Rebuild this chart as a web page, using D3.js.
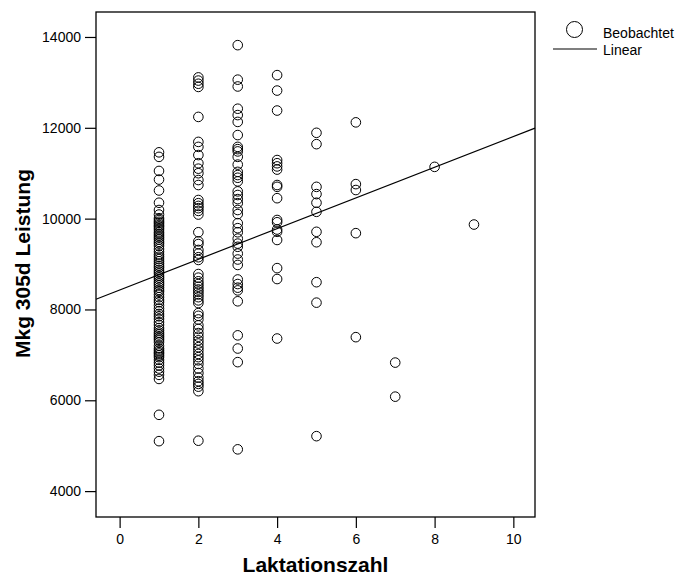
<!DOCTYPE html>
<html>
<head>
<meta charset="utf-8">
<script src="https://cdn.jsdelivr.net/npm/d3@7"></script>
<style>
  html, body { margin: 0; padding: 0; background: #fff; }
  svg { display: block; font-family: Arial, "Liberation Sans", sans-serif; }
</style>
</head>
<body>
<svg id="chart" width="684" height="578"></svg>
<script>
// ---- data ----
const lakt1 = [11460, 11360, 11050, 10860, 10620, 10350, 10190, 10090, 10010, 9970, 9930, 9900, 9860, 9830, 9790, 9750, 9700, 9660, 9620, 9580, 9540, 9490, 9450, 9400, 9330, 9270, 9210, 9160, 9110, 9060, 9010, 8960, 8920, 8870, 8830, 8790, 8740, 8700, 8660, 8610, 8570, 8530, 8480, 8430, 8390, 8330, 8270, 8210, 8160, 8090, 8020, 7960, 7900, 7850, 7790, 7720, 7660, 7590, 7540, 7490, 7450, 7410, 7370, 7330, 7280, 7200, 7140, 7100, 7060, 7030, 6990, 6950, 6890, 6830, 6770, 6700, 6630, 6560, 6470, 5680, 5100];
const lakt2 = [13110, 13040, 12970, 12900, 12240, 11690, 11580, 11400, 11220, 11100, 11000, 10850, 10740, 10410, 10340, 10280, 10230, 10170, 10090, 9700, 9500, 9440, 9310, 9230, 9150, 9090, 8780, 8700, 8620, 8560, 8500, 8440, 8390, 8330, 8270, 8200, 8140, 7920, 7860, 7780, 7650, 7570, 7480, 7400, 7320, 7250, 7170, 7100, 7020, 6950, 6880, 6800, 6700, 6600, 6500, 6420, 6360, 6300, 6200, 5110];
const lakt3 = [13820, 13060, 12910, 12420, 12280, 12130, 11840, 11580, 11530, 11480, 11360, 11190, 11030, 10960, 10900, 10820, 10600, 10520, 10430, 10340, 10190, 10100, 9900, 9790, 9700, 9560, 9450, 9380, 9230, 9100, 8980, 8660, 8560, 8480, 8420, 8180, 7430, 7140, 6840, 4920];
const lakt4 = [13160, 12820, 12380, 11290, 11220, 11150, 11080, 10740, 10700, 10450, 9970, 9920, 9760, 9710, 9530, 8910, 8670, 7360];
const lakt5 = [11890, 11640, 10700, 10540, 10350, 10150, 9710, 9480, 8600, 8150, 5210];
const lakt6 = [12120, 10760, 10630, 9680, 7390];
const lakt7 = [6830, 6080];
const lakt8 = [11140];
const lakt9 = [9870];
const laktationen = [1, 2, 3, 4, 5, 6, 7, 8, 9];
const xTicks = [0, 2, 4, 6, 8, 10];
const yTicks = [4000, 6000, 8000, 10000, 12000, 14000];
const regIntercept = 8428;   // linear fit
const regSlope = 338;
const xTitle = "Laktationszahl";
const yTitle = "Mkg 305d Leistung";
const legendLabels = ["Beobachtet", "Linear"];

// ---- build ----
const allSeries = [lakt1, lakt2, lakt3, lakt4, lakt5, lakt6, lakt7, lakt8, lakt9];
const points = [];
allSeries.forEach((vals, i) => vals.forEach(v => points.push({ x: laktationen[i], y: v })));

const svg = d3.select("#chart");
const L = 96, R = 535, T = 12, B = 517;

const x = d3.scaleLinear().domain([-0.6, 10.55]).range([L, R]);
const y = d3.scaleLinear().domain([3430, 14550]).range([B, T]);

// axes
const yAxis = d3.axisLeft(y).tickValues(yTicks).tickFormat(d3.format("d")).tickSize(11).tickPadding(4).tickSizeOuter(0);
const xAxis = d3.axisBottom(x).tickValues(xTicks).tickFormat(d3.format("d")).tickSize(11).tickPadding(6).tickSizeOuter(0);

const gy = svg.append("g").attr("transform", `translate(${L},0)`).call(yAxis);
const gx = svg.append("g").attr("transform", `translate(0,${B})`).call(xAxis);
[gx, gy].forEach(g => {
  g.select(".domain").remove();
  g.selectAll(".tick line").attr("stroke", "#000").attr("stroke-width", 1.2);
  g.selectAll(".tick text").attr("fill", "#000").style("font-size", "14px").style("font-family", "Arial, 'Liberation Sans', sans-serif");
});

// frame
svg.append("rect")
  .attr("x", L).attr("y", T).attr("width", R - L).attr("height", B - T)
  .attr("fill", "none").attr("stroke", "#000").attr("stroke-width", 1.3);

// points
svg.append("g").selectAll("circle").data(points).join("circle")
  .attr("cx", d => x(d.x)).attr("cy", d => y(d.y)).attr("r", 4.8)
  .attr("fill", "none").attr("stroke", "#000").attr("stroke-width", 1);

// regression line
const xd = x.domain();
svg.append("line")
  .attr("x1", x(xd[0])).attr("y1", y(regIntercept + regSlope * xd[0]))
  .attr("x2", x(xd[1])).attr("y2", y(regIntercept + regSlope * xd[1]))
  .attr("stroke", "#000").attr("stroke-width", 1.2);

// titles
svg.append("text")
  .attr("x", (L + R) / 2).attr("y", 572)
  .attr("text-anchor", "middle")
  .style("font-size", "21px").style("font-weight", "bold")
  .text(xTitle);

svg.append("text")
  .attr("transform", `translate(30,${263.5}) rotate(-90)`)
  .attr("text-anchor", "middle")
  .style("font-size", "21px").style("font-weight", "bold")
  .text(yTitle);

// legend
const lg = svg.append("g");
lg.append("circle").attr("cx", 574.5).attr("cy", 29.5).attr("r", 8)
  .attr("fill", "none").attr("stroke", "#000").attr("stroke-width", 1);
lg.append("line").attr("x1", 553).attr("x2", 597).attr("y1", 49).attr("y2", 49)
  .attr("stroke", "#000").attr("stroke-width", 1.2);
lg.selectAll("text").data(legendLabels).join("text")
  .attr("x", 603).attr("y", (d, i) => 38 + i * 16.5)
  .style("font-size", "14px")
  .text(d => d);
</script>
</body>
</html>
